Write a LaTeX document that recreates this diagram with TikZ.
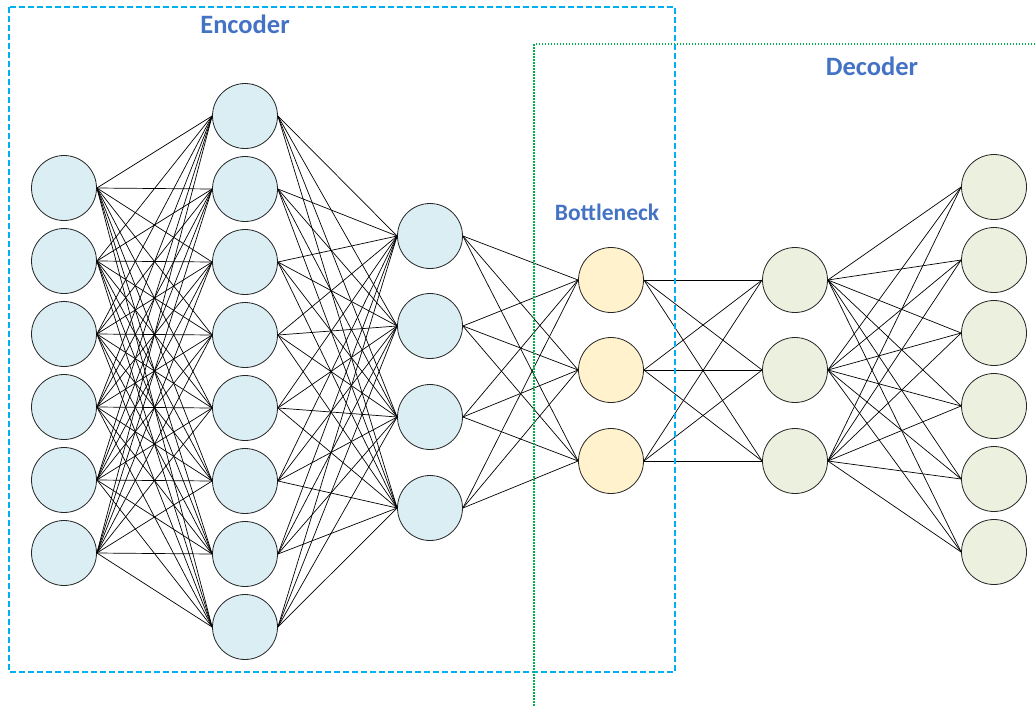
\documentclass[tikz,border=0pt]{standalone}
\usepackage{fontspec}
\setmainfont{Carlito}
\definecolor{encfill}{HTML}{DAEEF3}
\definecolor{botfill}{HTML}{FFF2CC}
\definecolor{decfill}{HTML}{EBF1DE}
\definecolor{labblue}{HTML}{4472C4}
\definecolor{encline}{HTML}{00B0F0}
\definecolor{decline}{HTML}{00B050}
\tikzset{
  neuron/.style={circle, draw=black!85, line width=0.8pt, inner sep=0pt, minimum size=65pt},
  encn/.style={neuron, fill=encfill},
  botn/.style={neuron, fill=botfill},
  decn/.style={neuron, fill=decfill},
  conn/.style={black, line width=0.7pt},
  lab/.style={text=labblue, font=\bfseries, anchor=base, inner sep=0pt},
  encbox/.style={draw=encline, line width=1.3pt, dash pattern=on 6pt off 3pt},
  decbox/.style={draw=decline, line width=1.3pt, dash pattern=on 1.5pt off 1.5pt}
}
\begin{document}
\begin{tikzpicture}[x=1pt,y=-1pt]
\useasboundingbox (0,0) rectangle (1035,707);
% nodes
\foreach \i/\y in {1/188,2/261,3/334,4/407,5/480,6/553}
  \node[encn] (a\i) at (64,\y) {};
\foreach \i/\y in {1/116,2/189,3/262,4/335,5/408,6/481,7/554,8/627}
  \node[encn] (b\i) at (245,\y) {};
\foreach \i/\y in {1/236,2/326,3/417,4/508}
  \node[encn] (c\i) at (430,\y) {};
\foreach \i/\y in {1/280,2/370,3/461}
  \node[botn] (d\i) at (611,\y) {};
\foreach \i/\y in {1/280,2/370,3/461}
  \node[decn] (e\i) at (795,\y) {};
\foreach \i/\y in {1/187,2/260,3/333,4/406,5/479,6/552}
  \node[decn] (f\i) at (994,\y) {};
% connections
\foreach \i in {1,...,6}
  \foreach \j in {1,...,8}
    \draw[conn] (a\i.east) -- (b\j.west);
\foreach \i in {1,...,8}
  \foreach \j in {1,...,4}
    \draw[conn] (b\i.east) -- (c\j.west);
\foreach \i in {1,...,4}
  \foreach \j in {1,...,3}
    \draw[conn] (c\i.east) -- (d\j.west);
\foreach \i in {1,...,3}
  \foreach \j in {1,...,3}
    \draw[conn] (d\i.east) -- (e\j.west);
\foreach \i in {1,...,3}
  \foreach \j in {1,...,6}
    \draw[conn] (e\i.east) -- (f\j.west);
% boxes
\coordinate (encTL) at (9,7);
\coordinate (encBR) at (675,672);
\draw[encbox] (encTL) rectangle (encBR);
\coordinate (decR) at (1035,44);
\coordinate (decTL) at (534,44);
\coordinate (decB) at (534,707);
\draw[decbox] (decR) -- (decTL) -- (decB);
% labels
\node[lab, font=\bfseries\fontsize{26.5}{30}\selectfont] (enclab) at (245,33) {Encoder};
\node[lab, font=\bfseries\fontsize{26.5}{30}\selectfont] (declab) at (872,75) {Decoder};
\node[lab, font=\bfseries\fontsize{23.5}{28}\selectfont] (botlab) at (607,220.5) {Bottleneck};
\end{tikzpicture}
\end{document}
